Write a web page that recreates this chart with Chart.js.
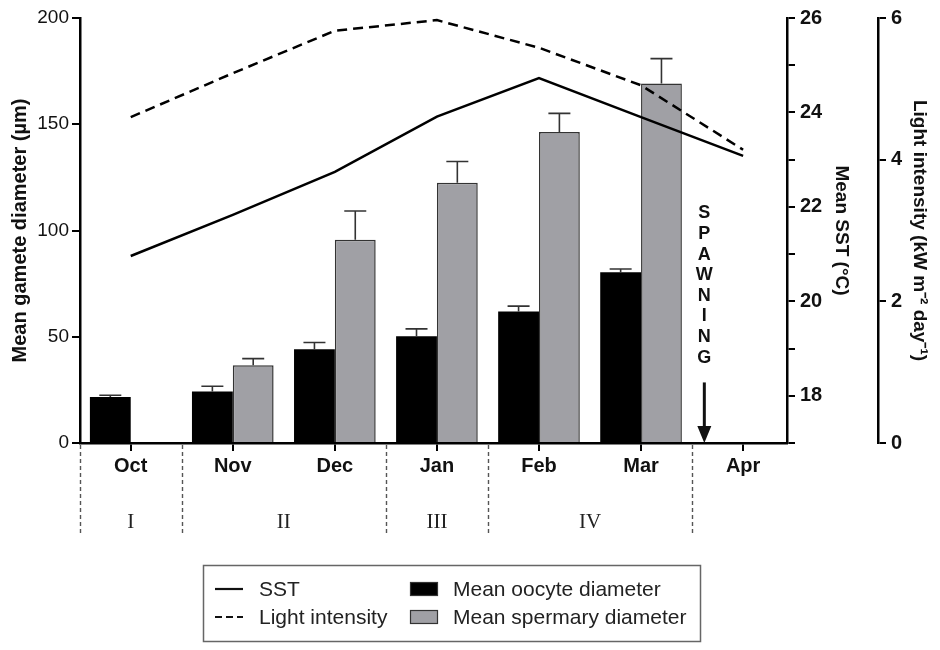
<!DOCTYPE html>
<html>
<head>
<meta charset="utf-8">
<title>Gamete diameter, SST and light intensity</title>
<script src="https://cdn.jsdelivr.net/npm/chart.js@4.4.1/dist/chart.umd.min.js"></script>
<style>
  html, body { margin: 0; padding: 0; background: #fff; }
  #wrap { width: 940px; height: 650px; }
</style>
</head>
<body>
<div id="wrap"><canvas id="chart" width="940" height="650"></canvas></div>
<script>
// values
const months = ['Oct', 'Nov', 'Dec', 'Jan', 'Feb', 'Mar', 'Apr'];
const oocyteMean = [21.6, 24.2, 44.1, 50.2, 61.9, 80.4, null];
const oocyteErr = [0.9, 2.5, 3.2, 3.5, 2.5, 1.5, null];
const spermaryMean = [null, 36.6, 95.6, 122.5, 146.4, 169.2, null];
const spermaryErr = [null, 3.1, 13.6, 10.0, 8.7, 11.7, null];
const sst = [20.96, 21.83, 22.74, 23.91, 24.73, 23.9, 23.08];
const light = [4.60, 5.22, 5.82, 5.97, 5.58, 5.05, 4.14];
const stages = ['I', 'II', 'III', 'IV'];
const stageEdges = [-0.5, 0.5, 2.5, 3.5, 5.5];
const spawningText = 'SPAWNING';

(() => {
    const FONT = '"Liberation Sans", Arial, Helvetica, sans-serif';
    Chart.defaults.font.family = FONT;
    Chart.defaults.color = '#111';

    const toPoints = (arr) => months.map((m, i) => ({ x: i, y: arr[i] }));

    // error bars drawn right after each bar dataset, so lines stay on top
    const errorBars = {
        id: 'errorBars',
        afterDatasetDraw(chart, args) {
            const sets = { 0: [oocyteMean, oocyteErr], 1: [spermaryMean, spermaryErr] };
            const pair = sets[args.index];
            if (!pair) return;
            const [means, errs] = pair;
            const yScale = chart.scales.y;
            const ctx = chart.ctx;
            ctx.save();
            ctx.strokeStyle = '#333';
            ctx.lineWidth = 1.6;
            args.meta.data.forEach((bar, i) => {
                if (means[i] == null || errs[i] == null) return;
                const top = yScale.getPixelForValue(means[i] + errs[i]);
                ctx.beginPath();
                ctx.moveTo(bar.x, bar.y);
                ctx.lineTo(bar.x, top);
                ctx.moveTo(bar.x - 11, top);
                ctx.lineTo(bar.x + 11, top);
                ctx.stroke();
            });
            ctx.restore();
        }
    };

    const extras = {
        id: 'extras',
        afterDraw(chart) {
            const ctx = chart.ctx;
            const xs = chart.scales.x;
            const ys = chart.scales.y;
            const area = chart.chartArea;
            ctx.save();

            // stage separators
            ctx.strokeStyle = '#555';
            ctx.lineWidth = 1.4;
            ctx.setLineDash([4, 3]);
            stageEdges.forEach(e => {
                const px = Math.round(xs.getPixelForValue(e)) + 0.5;
                ctx.beginPath();
                ctx.moveTo(px, area.bottom + 2);
                ctx.lineTo(px, 534);
                ctx.stroke();
            });
            ctx.setLineDash([]);

            // stage numerals
            ctx.fillStyle = '#222';
            ctx.font = '21px "Liberation Serif", "Times New Roman", serif';
            ctx.textAlign = 'center';
            ctx.textBaseline = 'middle';
            stages.forEach((s, i) => {
                const mid = (stageEdges[i] + stageEdges[i + 1]) / 2;
                ctx.fillText(s, xs.getPixelForValue(mid), 522);
            });

            // spawning label and arrow
            const sx = xs.getPixelForValue(5.62);
            ctx.fillStyle = '#111';
            ctx.font = 'bold 18px ' + FONT;
            const y0 = ys.getPixelForValue(108);
            spawningText.split('').forEach((ch, i) => {
                ctx.fillText(ch, sx, y0 + i * 20.6);
            });
            const a0 = ys.getPixelForValue(28.5);
            const a1 = ys.getPixelForValue(0);
            ctx.strokeStyle = '#111';
            ctx.lineWidth = 3;
            ctx.beginPath();
            ctx.moveTo(sx, a0);
            ctx.lineTo(sx, a1 - 14);
            ctx.stroke();
            ctx.beginPath();
            ctx.moveTo(sx - 7, a1 - 17);
            ctx.lineTo(sx + 7, a1 - 17);
            ctx.lineTo(sx, a1);
            ctx.closePath();
            ctx.fill();

            // legend box
            ctx.strokeStyle = '#666';
            ctx.lineWidth = 1.5;
            ctx.strokeRect(203.5, 565.5, 497, 76);
            ctx.font = '21px ' + FONT;
            ctx.textAlign = 'left';
            ctx.fillStyle = '#222';
            const rows = [589, 617];
            const ds = chart.data.datasets;
            const items = [
                { set: ds[2], col: 0, row: 0 },
                { set: ds[3], col: 0, row: 1 },
                { set: ds[0], col: 1, row: 0 },
                { set: ds[1], col: 1, row: 1 }
            ];
            items.forEach(it => {
                const y = rows[it.row];
                const dset = it.set;
                if (it.col === 0) {
                    ctx.strokeStyle = '#111';
                    ctx.lineWidth = 2.2;
                    ctx.setLineDash(dset.borderDash ? [7, 4] : []);
                    ctx.beginPath();
                    ctx.moveTo(215, y);
                    ctx.lineTo(243, y);
                    ctx.stroke();
                    ctx.setLineDash([]);
                    ctx.fillStyle = '#222';
                    ctx.fillText(dset.label, 259, y + 1);
                } else {
                    ctx.fillStyle = dset.backgroundColor;
                    ctx.fillRect(410, y - 7, 28, 14);
                    ctx.strokeStyle = '#333';
                    ctx.lineWidth = 1.2;
                    ctx.strokeRect(410.5, y - 6.5, 27, 13);
                    ctx.fillStyle = '#222';
                    ctx.fillText(dset.label, 453, y + 1);
                }
            });
            ctx.restore();
        }
    };

    const axisGrid = { drawOnChartArea: false, drawTicks: true, tickLength: 8, color: '#000', lineWidth: 2 };
    const axisBorder = { display: true, color: '#000', width: 2.5 };

    const config = {
        type: 'bar',
        data: {
            datasets: [
                {
                    type: 'bar',
                    label: 'Mean oocyte diameter',
                    data: toPoints(oocyteMean),
                    backgroundColor: '#000',
                    borderWidth: 0,
                    yAxisID: 'y',
                    barPercentage: 1,
                    categoryPercentage: 0.8,
                    order: 2
                },
                {
                    type: 'bar',
                    label: 'Mean spermary diameter',
                    data: toPoints(spermaryMean),
                    backgroundColor: '#a0a0a5',
                    borderColor: '#333',
                    borderWidth: 1.5,
                    yAxisID: 'y',
                    barPercentage: 1,
                    categoryPercentage: 0.8,
                    order: 2
                },
                {
                    type: 'line',
                    label: 'SST',
                    data: toPoints(sst),
                    yAxisID: 'ySST',
                    borderColor: '#000',
                    borderWidth: 2.5,
                    pointRadius: 0,
                    tension: 0,
                    fill: false,
                    order: 1
                },
                {
                    type: 'line',
                    label: 'Light intensity',
                    data: toPoints(light),
                    yAxisID: 'yLight',
                    borderColor: '#000',
                    borderWidth: 2.5,
                    borderDash: [10, 6],
                    pointRadius: 0,
                    tension: 0,
                    fill: false,
                    order: 1
                }
            ]
        },
        options: {
            responsive: false,
            animation: false,
            devicePixelRatio: 1,
            layout: { padding: { top: 18, right: 0, bottom: 0, left: 0 } },
            plugins: {
                legend: { display: false },
                tooltip: { enabled: false }
            },
            scales: {
                x: {
                    type: 'linear',
                    min: -0.497,
                    max: 6.43,
                    offset: false,
                    afterBuildTicks: s => { s.ticks = months.map((m, i) => ({ value: i })); },
                    afterFit: s => { s.height = 207; },
                    grid: Object.assign({}, axisGrid, { offset: false, tickLength: 8 }),
                    border: axisBorder,
                    ticks: {
                        autoSkip: false,
                        maxRotation: 0,
                        padding: 3,
                        color: '#111',
                        font: { size: 20, weight: 'bold' },
                        callback: v => months[v] !== undefined ? months[v] : ''
                    }
                },
                y: {
                    type: 'linear',
                    position: 'left',
                    min: 0,
                    max: 200,
                    afterFit: s => { s.width = 80; },
                    grid: axisGrid,
                    border: axisBorder,
                    ticks: { stepSize: 50, padding: 3, color: '#111', font: { size: 19 } },
                    title: {
                        display: true,
                        text: 'Mean gamete diameter (µm)',
                        color: '#111',
                        font: { size: 20, weight: 'bold' },
                        padding: { top: 8, bottom: 0 }
                    }
                },
                ySST: {
                    type: 'linear',
                    position: 'right',
                    min: 17,
                    max: 26,
                    afterFit: s => { s.width = 91; },
                    grid: axisGrid,
                    border: axisBorder,
                    ticks: {
                        stepSize: 1,
                        padding: 5,
                        color: '#111',
                        font: { size: 20, weight: 'bold' },
                        callback: v => (v % 2 === 0 ? v : '')
                    },
                    title: {
                        display: true,
                        text: 'Mean SST (°C)',
                        color: '#111',
                        font: { size: 19, weight: 'bold' },
                        padding: { top: 25, bottom: 0 }
                    }
                },
                yLight: {
                    type: 'linear',
                    position: 'right',
                    min: 0,
                    max: 6,
                    afterFit: s => { s.width = 62; },
                    grid: axisGrid,
                    border: axisBorder,
                    ticks: { stepSize: 2, padding: 5, color: '#111', font: { size: 20, weight: 'bold' } },
                    title: {
                        display: true,
                        text: 'Light intensity (kW m⁻² day⁻¹)',
                        color: '#111',
                        font: { size: 19, weight: 'bold' },
                        padding: { top: 9, bottom: 0 }
                    }
                }
            }
        },
        plugins: [errorBars, extras]
    };

    new Chart(document.getElementById('chart').getContext('2d'), config);
})();
</script>
</body>
</html>
